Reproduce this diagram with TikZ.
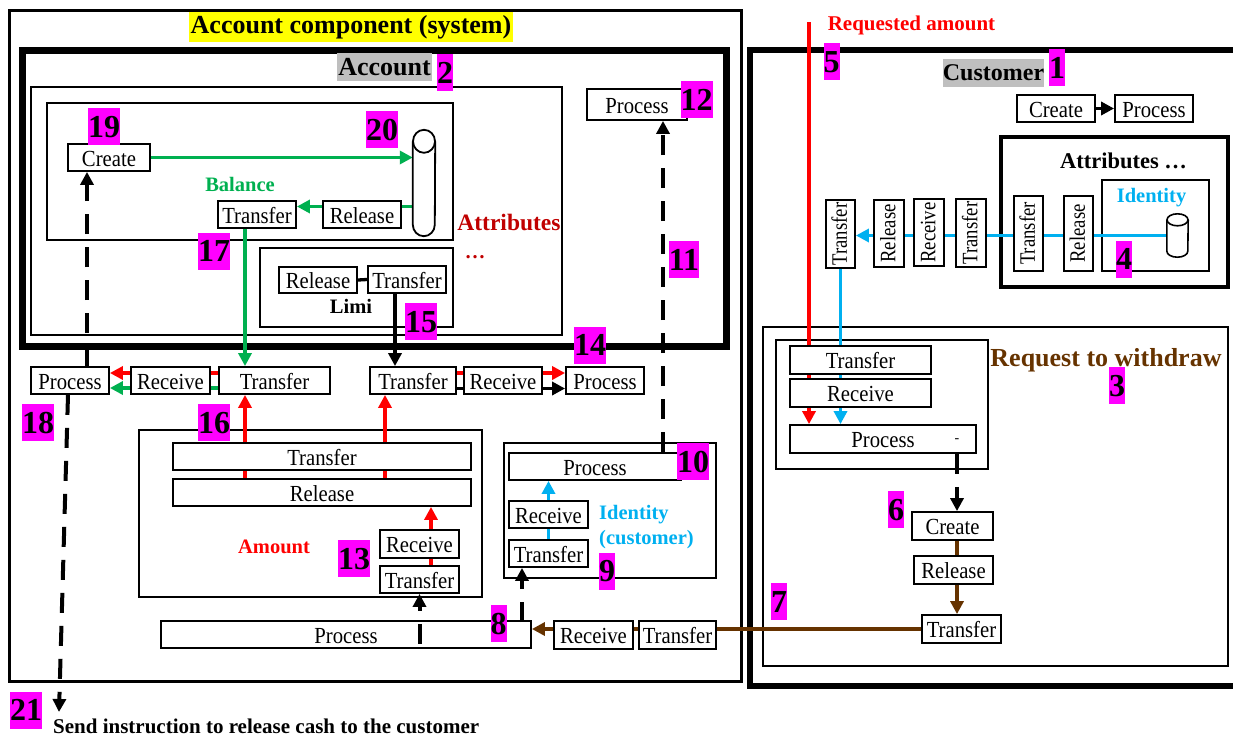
\documentclass[tikz,border=0pt]{standalone}
\usepackage{fontspec}
\setmainfont{Liberation Serif}
\newfontfamily\bxfont[FakeStretch=0.9]{Liberation Serif}
\newfontfamily\vbxfont[FakeStretch=0.85]{Liberation Serif}
\usetikzlibrary{arrows.meta,calc}
\definecolor{cgreen}{RGB}{0,176,80}
\definecolor{cblue}{RGB}{0,176,240}
\definecolor{cred}{RGB}{255,0,0}
\definecolor{cdred}{RGB}{192,0,0}
\definecolor{cbrown}{RGB}{102,51,0}
\definecolor{cmag}{RGB}{255,0,255}
\definecolor{cgray}{RGB}{191,191,191}
\definecolor{cyell}{RGB}{255,255,0}
\pgfdeclarelayer{back}
\pgfdeclarelayer{mid}
\pgfsetlayers{back,mid,main}
\newcommand{\bx}[7][]{\node[box,minimum width={(#5)-(#3)},minimum height={(#6)-(#4)},#1] (#2) at ({((#3)+(#5))/2},{((#4)+(#6))/2}) {#7};}
\newcommand{\vbx}[6]{\node[box,rotate=90,font=\vbxfont\fontsize{22}{24}\selectfont,text height=16pt,text depth=3.5pt,minimum width={(#6)-(#4)},minimum height={(#5)-(#3)}] (#1) at ({((#3)+(#5))/2},{((#4)+(#6))/2}) {#2};}
\begin{document}
\begin{tikzpicture}[x=1pt,y=-1pt,
  box/.style={draw,line width=1.8pt,fill=white,inner sep=0pt,font=\bxfont\fontsize{23}{24}\selectfont,text height=19pt,text depth=2pt},
  frm/.style={draw,fill=none,line width=1.8pt,inner sep=0pt},
  num/.style={fill=cmag,inner xsep=0pt,inner ysep=0pt,font=\bfseries\fontsize{32}{34}\selectfont,text height=29pt,text depth=8pt},
  lbl/.style={inner sep=0pt,font=\bfseries\fontsize{20.5}{24}\selectfont,anchor=base},
  con/.style={line width=3.3pt},
  arr/.style={-{Triangle[length=13pt,width=13pt]}},
  dsh/.style={line width=4pt,dash pattern=on 20pt off 13pt},
]
\useasboundingbox (0,0) rectangle (1233,736);
% ---------- frames ----------
\begin{pgfonlayer}{back}
\bx[frm,line width=3pt]{sys}{9}{10}{741}{681}{}
\bx[frm,line width=7pt]{acc}{22}{50}{726}{346}{}
\bx[frm]{attrc}{31}{87}{562}{335}{}
\bx[frm]{bal}{47}{103}{453}{240}{}
\bx[frm]{limi}{260}{248}{453}{327}{}
\bx[frm]{amtf}{139}{430}{482}{597}{}
\bx[frm]{idc}{504}{443}{716}{578}{}
\bx[frm,line width=6pt]{cust}{750}{50}{1245}{686}{}
\bx[frm,line width=4pt]{cattr}{1001}{137}{1228}{287}{}
\bx[frm]{cid}{1102}{180}{1209}{271}{}
\bx[frm]{req}{763}{327}{1228}{666}{}
\bx[frm]{reqin}{776}{340}{988}{469}{}
\end{pgfonlayer}
% ---------- boxes ----------
\bx{c19}{68}{144}{150}{171}{Create}
\bx{bt}{218}{201}{296}{228}{Transfer}
\bx{br}{323}{201}{401}{228}{Release}
\bx{lr}{279}{267}{357}{293}{Release}
\bx{lt}{368}{266}{446}{293}{Transfer}
\bx{p12}{587}{89}{687}{120}{Process}
\bx{p18}{31}{367}{109}{394}{Process}
\bx{r18}{131}{367}{210}{394}{Receive}
\bx{t16}{219}{367}{330}{394}{Transfer}
\bx{t14}{370}{367}{456}{394}{Transfer}
\bx{r14}{464}{367}{542}{394}{Receive}
\bx{p14}{566}{367}{644}{394}{Process}
\bx{att}{173}{443}{471}{470}{Transfer}
\bx{ar}{173}{479}{471}{506}{Release}
\bx{amr}{380}{530}{459}{558}{Receive}
\bx{amt}{380}{566}{459}{593}{Transfer}
\bx{p8}{161}{621}{531}{648}{Process}
\bx{r8}{554}{621}{633}{649}{Receive}
\bx{t8}{639}{621}{716}{649}{Transfer}
\bx{p10}{509}{453}{681}{480}{Process}
\bx{ir}{509}{501}{588}{528}{Receive}
\bx{it}{509}{540}{588}{567}{Transfer}
\bx{cc}{1017}{95}{1095}{122}{Create}
\bx{cp}{1115}{95}{1193}{122}{Process}
\bx{rt}{790}{346}{931}{374}{Transfer}
\bx{rr}{790}{379}{931}{407}{Receive}
\bx{rp}{790}{425}{976}{453}{Process}
\bx{rc}{912}{512}{993}{540}{Create}
\bx{rl}{914}{556}{993}{584}{Release}
\bx{rtt}{922}{615}{1001}{643}{Transfer}
\vbx{vt3}{Transfer}{826}{200}{855}{268}
\vbx{vrl}{Release}{874}{200}{904}{267}
\vbx{vrc}{Receive}{914}{199}{944}{266}
\vbx{vt2}{Transfer}{956}{199}{986}{267}
\vbx{vt1}{Transfer}{1014}{196}{1043}{271}
\vbx{vr1}{Release}{1064}{196}{1093}{271}
\node[inner sep=0pt,font=\fontsize{14}{14}\selectfont] (rpdash) at (957,441) {-};
% ---------- cylinders ----------
\node[inner sep=0pt,minimum width=22pt,minimum height=106pt] (cyl) at (424,183) {};
\draw[line width=1.8pt,fill=white] ([yshift=-11.5pt]cyl.north west) -- ([yshift=11.5pt]cyl.south west) arc[start angle=180,end angle=360,x radius=11pt,y radius=11.5pt] -- ([yshift=-11.5pt]cyl.north east);
\draw[line width=1.8pt,fill=white] ([yshift=-11.5pt]cyl.north) ellipse [x radius=11pt,y radius=11.5pt];
\node[inner sep=0pt,minimum width=21pt,minimum height=43pt] (cyl2) at (1177.5,235.5) {};
\draw[line width=1.6pt,fill=white] ([yshift=-6pt]cyl2.north west) -- ([yshift=6pt]cyl2.south west) arc[start angle=180,end angle=360,x radius=10.5pt,y radius=6pt] -- ([yshift=-6pt]cyl2.north east);
\draw[line width=1.6pt,fill=white] ([yshift=-6pt]cyl2.north) ellipse [x radius=10.5pt,y radius=6pt];
% ---------- connectors ----------
\begin{pgfonlayer}{mid}
\draw[con,cgreen,arr] (c19.east) -- (c19.east -| cyl.west);
\coordinate (gb) at ([yshift=8pt]br.west);
\draw[con,cgreen] (gb -| cyl.west) -- (gb -| br.east);
\draw[con,cgreen,arr] (gb) -- (gb -| bt.east);
\coordinate (g17) at ([xshift=-12pt]bt.south);
\draw[con,cgreen,arr] (g17) -- (g17 |- t16.north);
\draw[con,cgreen,arr] ([yshift=-7.5pt]t16.west) -- ([yshift=-7.5pt]p18.east);
\draw[con,cred,arr] ([yshift=7.5pt]t16.west) -- ([yshift=7.5pt]p18.east);
\draw[con,cred,arr] (g17 |- ar.north) -- (g17 |- t16.south);
\coordinate (ra2) at ([xshift=-28pt]t14.south);
\draw[con,cred,arr] (ra2 |- ar.north) -- (ra2);
\coordinate (ra3) at ([xshift=11.5pt]amt.south);
\draw[con,cred,arr] (ra3) -- (ra3 |- ar.south);
\draw[con] (lr.east) -- (lt.west);
\coordinate (k15) at ([xshift=-12pt]lt.south);
\draw[con,arr] (k15) -- (k15 |- t14.north);
\draw[con,cred,arr] ([yshift=7.5pt]t14.east) -- ([yshift=7.5pt]p14.west);
\draw[con,arr] ([yshift=-8pt]t14.east) -- ([yshift=-8pt]p14.west);
\coordinate (d11) at ([xshift=26pt]p12.south);
\draw[dsh,arr] (d11 |- p10.north) -- (d11);
\coordinate (d19) at ([xshift=-22pt]c19.south);
\draw[dsh,arr] (d19 |- p18.north) -- (d19);
\coordinate (e21) at (59,712);
\draw[dsh,arr] ([xshift=-2pt]p18.south) -- (e21);
\draw[con,cblue,arr] (it.north) -- (it.north |- p10.south);
\draw[con,cblue,arr] (cyl2.west) -- (cyl2.west -| vt3.south);
\draw[con,cblue,arr] (vt3.west) -- (vt3.west |- rp.north);
\coordinate (rq) at (809,22);
\draw[con,cred,arr] (rq) -- (rq |- rp.north);
\draw[con,arr] (cc.east) -- (cp.west);
\coordinate (b6) at ([xshift=4.5pt]rc.south);
\draw[con,cbrown,arr] (b6) -- (b6 |- rtt.north);
\draw[con,cbrown,arr] (rtt.west) -- (rtt.west -| p8.east);
\coordinate (b6t) at ([xshift=4.5pt]rc.north);
\draw[dsh,arr] (b6t |- rp.south) -- (b6t);
\end{pgfonlayer}
\coordinate (d13) at (amt.south |- p8.south);
\draw[dsh,arr] ([yshift=5pt]d13) -- (amt.south);
\coordinate (d9) at ([xshift=-26.5pt]it.south);
\coordinate (d9b) at (d9 |- p8.north);
\draw[dsh,arr] ([yshift=-2pt]d9b) -- (d9);
% ---------- titles and labels ----------
\node[fill=cyell,inner xsep=2pt,inner ysep=0pt,minimum height=30pt,font=\bfseries\fontsize{26}{28}\selectfont] (title) at (351,27) {Account component (system)};
\node[fill=cgray,inner xsep=1pt,inner ysep=0pt,minimum height=28pt,font=\bfseries\fontsize{26}{28}\selectfont] (acclbl) at (384.5,67) {Account};
\node[fill=cgray,inner xsep=0pt,inner ysep=0pt,minimum height=28pt,font=\bfseries\fontsize{24}{26}\selectfont] (custlbl) at (993.5,73) {Customer};
\node[lbl,cgreen] (balance) at (240,191) {Balance};
\node[lbl,cdred,font=\bfseries\fontsize{23.5}{26}\selectfont] (attrs) at (509,230) {Attributes};
\node[lbl,cdred] (dots) at (475,258) {…};
\node[lbl] (limil) at (351,313) {Limi};
\node[lbl,cred] (amount) at (274,553) {Amount};
\node[lbl,cblue,anchor=west,align=left,font=\bfseries\fontsize{20.5}{25}\selectfont] (idcl) at (599,527) {Identity\\(customer)};
\node[lbl,cblue] (cidl) at (1151.5,202) {Identity};
\node[lbl,font=\bfseries\fontsize{22.5}{24}\selectfont] (cattrl) at (1123.5,168) {Attributes …};
\node[lbl,cred,font=\bfseries\fontsize{21}{24}\selectfont] (reqamt) at (911.5,30) {Requested amount};
\node[lbl,cbrown,font=\bfseries\fontsize{26}{28}\selectfont] (reqw) at (1106,366) {Request to withdraw};
\node[lbl,anchor=base west,font=\bfseries\fontsize{21}{24}\selectfont] (send) at (53,733) {Send instruction to release cash to the customer};
% ---------- numbers ----------
\node[num] (n1) at (1057,67.5) {1};
\node[num] (n2) at (445,72.5) {2};
\node[num] (n3) at (1117,385.5) {3};
\node[num] (n4) at (1124,259) {4};
\node[num] (n5) at (831.5,61.5) {5};
\node[num] (n6) at (896,509.5) {6};
\node[num] (n7) at (779,601.5) {7};
\node[num] (n8) at (498.5,623.5) {8};
\node[num] (n9) at (607,571) {9};
\node[num] (n10) at (693,461.5) {10};
\node[num] (n11) at (684,259.5) {11};
\node[num] (n12) at (696.5,99.5) {12};
\node[num] (n13) at (354,558.5) {13};
\node[num] (n14) at (590,345) {14};
\node[num] (n15) at (421,321.5) {15};
\node[num] (n16) at (214,422.5) {16};
\node[num] (n17) at (214,251) {17};
\node[num] (n18) at (38,422.5) {18};
\node[num] (n19) at (104,126.5) {19};
\node[num] (n20) at (382,129.5) {20};
\node[num] (n21) at (26,710) {21};
\end{tikzpicture}
\end{document}
